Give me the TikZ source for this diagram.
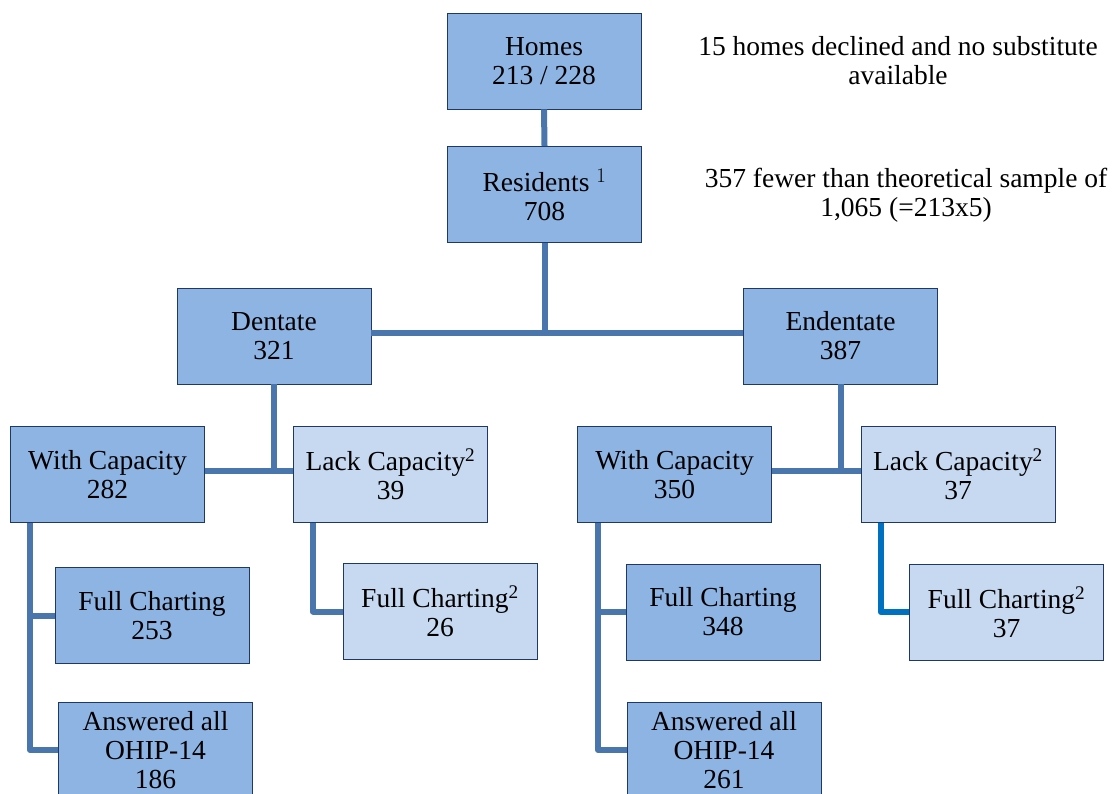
\documentclass[tikz,border=0pt]{standalone}
\usepackage{fontspec}
\setmainfont{Liberation Serif}
\usepackage{tikz}
\usetikzlibrary{positioning}
\definecolor{boxfill}{HTML}{8EB4E3}
\definecolor{boxlight}{HTML}{C6D9F1}
\definecolor{boxline}{HTML}{1F3864}
\definecolor{linkcol}{HTML}{4A76AE}
\definecolor{linkbright}{HTML}{0070C0}
\tikzset{
    mybox/.style = {rectangle, draw=boxline, line width=0.9pt, fill=boxfill, align=center,
                    minimum width=194pt, minimum height=96pt, inner sep=0pt,
                    font=\fontsize{27.5}{29}\selectfont},
    myboxl/.style = {mybox, fill=boxlight},
    note/.style = {align=center, font=\fontsize{27.5}{29}\selectfont},
    linkn/.style = {line width=6pt, linkcol, line join=round},
    linkb/.style = {line width=6pt, linkbright, line join=round},
}
\begin{document}
\begin{tikzpicture}[x=1pt,y=-1pt]
\useasboundingbox (0,0) rectangle (1115,794);

\node[mybox] at (544, 61) (homes) {Homes\\213 / 228};
\node[mybox] at (544.5, 194.5) (res) {Residents $^{1}$\\708};
\node[note] at (898, 61) (n1) {15 homes declined and no substitute\\available};
\node[note] at (906, 195) (n2) {357 fewer than theoretical sample of\\1,065 (=213x5)};

\node[mybox] at (274, 336) (den) {Dentate\\321};
\node[mybox] at (840.5, 336) (end) {Endentate\\387};

\node[mybox] at (107.5, 474.5) (wcl) {With Capacity\\282};
\node[myboxl] at (390.5, 474.5) (lcl) {Lack Capacity\textsuperscript{2}\\39};
\node[mybox] at (152, 615.5) (fcl) {Full Charting\\253};
\node[myboxl] at (440, 611.5) (fll) {Full Charting\textsuperscript{2}\\26};
\node[mybox] at (155.5, 750) (aal) {Answered all\\OHIP-14\\186};

\node[mybox] at (674.5, 474.5) (wcr) {With Capacity\\350};
\node[myboxl] at (958, 474.5) (lcr) {Lack Capacity\textsuperscript{2}\\37};
\node[mybox] at (723, 612) (fcr) {Full Charting\\348};
\node[myboxl] at (1006.5, 612) (flr) {Full Charting\textsuperscript{2}\\37};
\node[mybox] at (724, 750) (aar) {Answered all\\OHIP-14\\261};
%
\draw[linkn] (homes.south) -- (res.north);
\draw[linkn] (res.south) -- ([yshift=3pt]res.south |- den.east);
\draw[linkn] ([yshift=3pt]den.east) -- ([yshift=3pt]end.west);
\draw[linkn] (den.south) -- ([yshift=4pt]den.south |- wcl.east);
\draw[linkn] ([yshift=4pt]wcl.east) -- ([yshift=4pt]lcl.west);
\draw[linkn] (end.south) -- ([yshift=4pt]end.south |- wcr.east);
\draw[linkn] ([yshift=4pt]wcr.east) -- ([yshift=4pt]lcr.west);
%
\draw[linkn] ([xshift=20pt]wcl.south west) |- (fcl.west);
\draw[linkn] ([xshift=20pt]wcl.south west) |- (aal.west);
\draw[linkn] ([xshift=20pt]lcl.south west) |- (fll.west);
\draw[linkn] ([xshift=21pt]wcr.south west) |- (fcr.west);
\draw[linkn] ([xshift=21pt]wcr.south west) |- (aar.west);
\draw[linkb] ([xshift=20pt]lcr.south west) |- (flr.west);

\end{tikzpicture}
\end{document}
